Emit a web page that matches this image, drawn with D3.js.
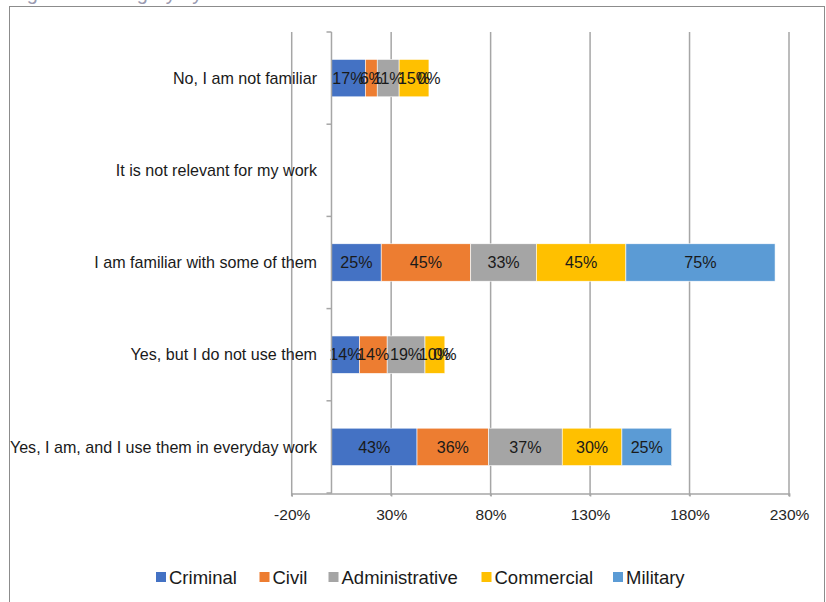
<!DOCTYPE html>
<html><head><meta charset="utf-8">
<script src="https://cdn.jsdelivr.net/npm/d3@7"></script>
<style>body{margin:0;background:#fff;}svg{display:block;font-family:"Liberation Sans",Arial,sans-serif;}</style>
</head><body>
<svg id="c" width="826" height="602"></svg>
<script>
const categories = ["No, I am not familiar","It is not relevant for my work","I am familiar with some of them","Yes, but I do not use them","Yes, I am, and I use them in everyday work"];
const seriesNames = ["Criminal","Civil","Administrative","Commercial","Military"];
const colors = ["#4472C4","#ED7D31","#A5A5A5","#FFC000","#5B9BD5"];
const criminal = [0.17, null, 0.25, 0.14, 0.43];
const civil = [0.06, null, 0.45, 0.14, 0.36];
const administrative = [0.11, null, 0.33, 0.19, 0.37];
const commercial = [0.15, null, 0.45, 0.10, 0.30];
const military = [0.00, null, 0.75, 0.00, 0.25];
const xTicks = [-0.2, 0.3, 0.8, 1.3, 1.8, 2.3];
const titleText = "Figure 3: Category by area of law";

const series = [criminal, civil, administrative, commercial, military];
const svg = d3.select("#c");
const pct = d => Math.round(d * 100) + "%";
const FS = 16.1;

// outer frame
svg.append("rect").attr("x",9.5).attr("y",6.5).attr("width",815).attr("height",620)
  .attr("fill","none").attr("stroke","#8c8c8c").attr("stroke-width",1);
// cut-off title
svg.append("text").attr("x",10).attr("y",-0.5).attr("font-size",20).attr("fill","#9a9ab0").text(titleText);

const x = d3.scaleLinear().domain([-0.2, 2.3]).range([291.7, 789]);
const y = d3.scaleBand().domain(categories).range([32, 493]).paddingInner(0.594).paddingOuter(0.297);

// gridlines
svg.append("g").selectAll("line").data(xTicks).join("line")
  .attr("x1",d=>x(d)).attr("x2",d=>x(d)).attr("y1",32).attr("y2",496)
  .attr("stroke","#a6a6a6").attr("stroke-width",1.5);

// x axis
const xAxis = d3.axisBottom(x).tickValues(xTicks).tickFormat(pct).tickSize(3).tickPadding(12);
const gx = svg.append("g").attr("transform","translate(0,493.5)").call(xAxis);
gx.select(".domain").attr("stroke","#a6a6a6").attr("stroke-width",1.5);
gx.selectAll(".tick line").attr("stroke","#a6a6a6").attr("stroke-width",1.5);
gx.selectAll("text").attr("font-size",15.5).attr("fill","#262626").attr("font-family","Liberation Sans, Arial, sans-serif");

// bars
categories.forEach((cat, i) => {
  let acc = 0;
  series.forEach((s, j) => {
    const v = s[i];
    if (v === null) return;
    const x0 = x(acc), x1 = x(acc + v);
    if (v > 0) {
      svg.append("rect").attr("x",x0).attr("y",y(cat)).attr("width",x1-x0).attr("height",y.bandwidth())
        .attr("fill",colors[j]).attr("stroke","#fff").attr("stroke-width",0.6);
    }
    acc += v;
  });
});
// data labels
categories.forEach((cat, i) => {
  let acc = 0;
  series.forEach((s, j) => {
    const v = s[i];
    if (v === null) return;
    const cx = (x(acc) + x(acc + v)) / 2;
    svg.append("text").attr("x",cx).attr("y",y(cat)+y.bandwidth()/2).attr("dy","0.36em")
      .attr("text-anchor","middle").attr("font-size",FS).attr("fill","#1a1a1a")
      .text(pct(v));
    acc += v;
  });
});

// category axis
const x0 = x(0);
svg.append("line").attr("x1",x0).attr("x2",x0).attr("y1",32).attr("y2",493.5)
  .attr("stroke","#a6a6a6").attr("stroke-width",1.5);
const bounds = d3.range(categories.length + 1).map(k => 32 + k * y.step());
svg.append("g").selectAll("line").data(bounds).join("line")
  .attr("x1",x0-5).attr("x2",x0).attr("y1",d=>d).attr("y2",d=>d)
  .attr("stroke","#a6a6a6").attr("stroke-width",1.5);
svg.append("g").selectAll("text").data(categories).join("text")
  .attr("x",317).attr("y",d=>y(d)+y.bandwidth()/2).attr("dy","0.36em")
  .attr("text-anchor","end").attr("font-size",FS).attr("fill","#1a1a1a").text(d=>d);

// legend
const legendX = [156, 259.5, 328.5, 481.5, 613];
const lg = svg.append("g");
seriesNames.forEach((n, j) => {
  lg.append("rect").attr("x",legendX[j]).attr("y",572).attr("width",10).attr("height",10).attr("fill",colors[j]);
  lg.append("text").attr("x",legendX[j]+13).attr("y",583.5).attr("font-size",18.5).attr("fill","#1a1a1a").text(n);
});
</script>
</body></html>
